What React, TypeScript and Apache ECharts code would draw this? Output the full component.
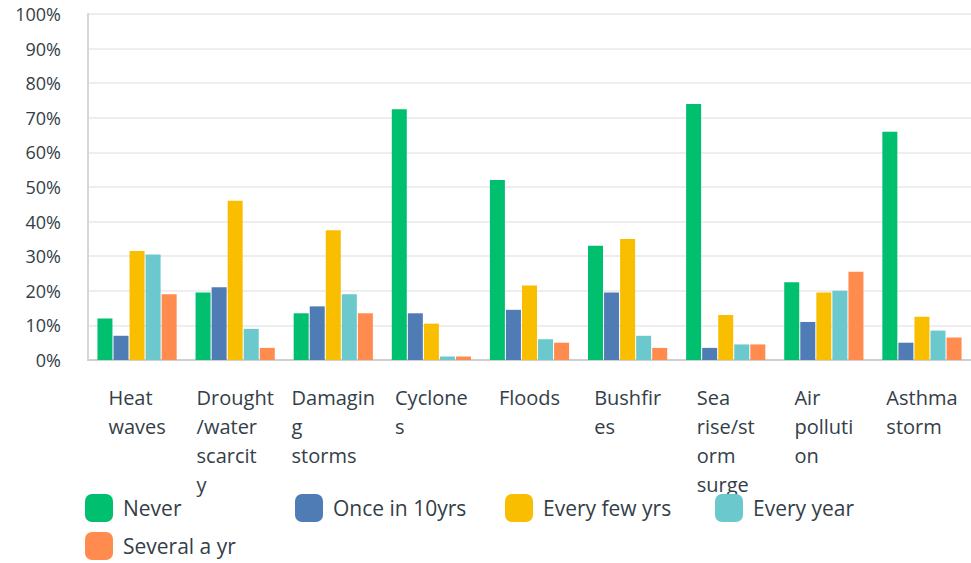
import React, { useEffect, useRef } from "react";
import * as echarts from "echarts";

const categories = [
  "Heat waves",
  "Drought/water scarcity",
  "Damaging storms",
  "Cyclones",
  "Floods",
  "Bushfires",
  "Sea rise/storm surge",
  "Air pollution",
  "Asthma storm",
];
const categoryLines = [
  ["Heat", "waves"],
  ["Drought", "/water", "scarcit", "y"],
  ["Damagin", "g", "storms"],
  ["Cyclone", "s"],
  ["Floods"],
  ["Bushfir", "es"],
  ["Sea", "rise/st", "orm", "surge"],
  ["Air", "polluti", "on"],
  ["Asthma", "storm"],
];
const seriesNames = ["Never", "Once in 10yrs", "Every few yrs", "Every year", "Several a yr"];
const never = [12, 19.5, 13.5, 72.5, 52, 33, 74, 22.5, 66];
const onceIn10 = [7, 21, 15.5, 13.5, 14.5, 19.5, 3.5, 11, 5];
const everyFew = [31.5, 46, 37.5, 10.5, 21.5, 35, 13, 19.5, 12.5];
const everyYear = [30.5, 9, 19, 1, 6, 7, 4.5, 20, 8.5];
const severalAYr = [19, 3.5, 13.5, 1, 5, 3.5, 4.5, 25.5, 6.5];
const seriesData = [never, onceIn10, everyFew, everyYear, severalAYr];
const colors = ["#00bf6f", "#507cb6", "#f9be00", "#6bc8cd", "#ff8b4f"];
const yTicks = [0, 10, 20, 30, 40, 50, 60, 70, 80, 90, 100];

const FONT = "'Open Sans', sans-serif";
const TEXT = "#333e48";

export default function App() {
  const ref = useRef<HTMLDivElement>(null);
  useEffect(() => {
    if (!ref.current) return;
    const chart = echarts.init(ref.current, null, { renderer: "svg" });
    const legendPos = [
      { left: 85, top: 494 },
      { left: 295, top: 494 },
      { left: 505, top: 494 },
      { left: 715, top: 494 },
      { left: 85, top: 532 },
    ];
    chart.setOption({
      animation: false,
      color: colors,
      grid: { left: 88, right: -4, top: 14, bottom: 203, containLabel: false },
      legend: seriesNames.map((n, i) => ({
        data: [n],
        left: legendPos[i].left,
        top: legendPos[i].top,
        padding: 0,
        itemWidth: 28,
        itemHeight: 28,
        icon: "roundRect",
        selectedMode: false,
        textStyle: { fontSize: 21, color: TEXT, fontFamily: FONT, padding: [0, 0, 0, 5] },
      })),
      xAxis: {
        type: "category",
        data: categories,
        axisTick: { show: false },
        axisLine: { show: true, lineStyle: { color: "#cfcfcf", width: 2 } },
        axisLabel: {
          interval: 0,
          margin: 23,
          formatter: (_v: string, i: number) =>
            categoryLines[i].map((l) => `{l|${l}}`).join("\n"),
          rich: {
            l: { fontSize: 20, lineHeight: 29, color: TEXT, fontFamily: FONT, align: "left" },
          },
        },
      },
      yAxis: {
        type: "value",
        min: yTicks[0],
        max: yTicks[yTicks.length - 1],
        interval: 10,
        axisTick: { show: false },
        axisLine: { show: true, lineStyle: { color: "#d6d6d6", width: 2 } },
        splitLine: { lineStyle: { color: "#eeeeee", width: 2 } },
        axisLabel: {
          formatter: "{value}%",
          fontSize: 18,
          color: TEXT,
          fontFamily: FONT,
          margin: 27,
        },
      },
      series: seriesNames.map((n, i) => ({
        name: n,
        type: "bar",
        data: seriesData[i],
        barWidth: 15,
        barGap: "7%",
        itemStyle: { color: colors[i] },
      })),
    });
    return () => chart.dispose();
  }, []);
  return (
    <div
      ref={ref}
      style={{ position: "fixed", left: 0, top: 0, width: 971, height: 563, background: "#fff" }}
    />
  );
}
